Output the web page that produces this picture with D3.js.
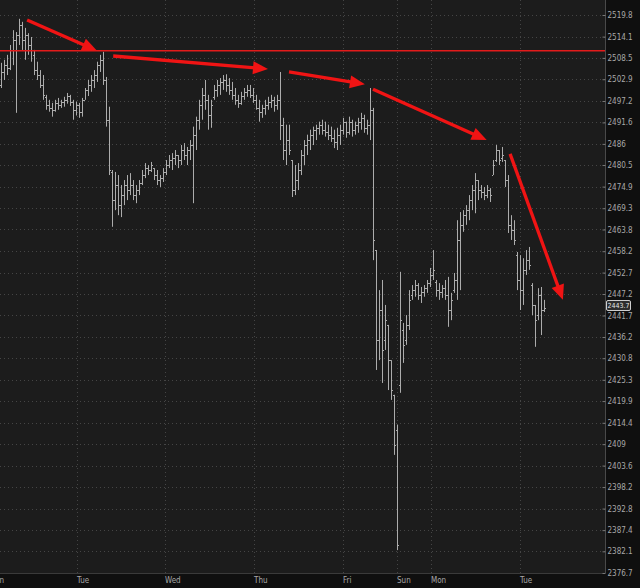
<!DOCTYPE html>
<html><head><meta charset="utf-8">
<script src="https://cdn.jsdelivr.net/npm/d3@7"></script>
<style>html,body{margin:0;padding:0;background:#111;}svg{display:block}</style>
</head><body><svg id="c" width="640" height="588"></svg>
<script>
const dayLabels = ["Mon","Tue","Wed","Thu","Fri","Sun","Mon","Tue"];
const dayTickIndex = [-4, 25.3, 54.7, 84.3, 114, 132, 143.3, 173];
const priceTicks = [2519.8,2514.1,2508.5,2502.9,2497.2,2491.6,2486,2480.5,2474.9,2469.3,2463.8,2458.2,2452.7,2447.2,2441.7,2436.2,2430.8,2425.3,2419.9,2414.4,2409,2403.6,2398.2,2392.8,2387.4,2382.1,2376.7];

const opens = [2501.4,2504.8,2506.6,2505.8,2510.6,2513.2,2514.5,2517.2,2513.2,2514.5,
2511.9,2509.3,2505.3,2504.0,2501.4,2498.3,2496.2,2495.4,2494.9,2496.7,
2496.2,2497.0,2497.5,2498.5,2497.0,2494.9,2496.2,2494.4,2497.5,2500.1,
2501.4,2502.7,2504.0,2506.6,2508.0,2502.7,2492.3,2478.7,2471.4,2475.3,
2470.1,2472.7,2475.3,2474.0,2475.3,2472.7,2474.0,2475.8,2477.9,2479.7,
2479.2,2479.7,2477.9,2476.6,2477.1,2478.7,2480.5,2481.8,2482.3,2483.1,
2481.8,2484.4,2483.1,2484.4,2485.7,2488.4,2492.3,2496.2,2498.8,2497.5,
2493.6,2498.3,2500.1,2501.4,2502.2,2502.7,2501.4,2500.1,2498.8,2497.5,
2496.7,2498.5,2499.6,2500.1,2498.8,2497.5,2495.4,2494.4,2495.4,2496.2,
2497.0,2497.5,2496.2,2497.5,2491.0,2484.4,2487.0,2481.8,2474.0,2476.6,
2479.2,2483.1,2485.7,2487.0,2488.4,2489.7,2490.2,2491.0,2489.7,2489.2,
2488.4,2487.6,2486.5,2488.4,2489.7,2491.8,2489.2,2491.8,2489.7,2491.0,
2491.8,2492.8,2490.2,2491.0,2494.9,2458.5,2435.4,2443.1,2435.4,2439.3,
2430.3,2421.5,2412.6,2424.0,2438.0,2435.4,2439.3,2447.0,2448.2,2449.5,
2447.0,2447.7,2448.7,2450.0,2452.1,2450.3,2448.2,2447.7,2448.7,2447.0,
2443.1,2448.2,2450.8,2461.1,2465.0,2467.5,2468.8,2471.4,2474.0,2476.6,
2474.0,2473.5,2472.7,2474.0,2477.9,2481.8,2484.4,2482.3,2481.8,2476.6,
2465.0,2463.7,2457.2,2450.8,2448.2,2453.4,2455.9,2449.5,2444.4,2441.8,
2447.0,2443.1];

const highs = [2507.2,2508.0,2509.3,2511.9,2515.8,2515.3,2518.8,2518.0,2516.4,2515.0,
2514.0,2510.6,2507.5,2505.3,2504.0,2498.8,2497.5,2496.7,2497.5,2498.0,
2497.5,2498.3,2499.3,2498.8,2497.5,2497.0,2496.7,2498.0,2500.6,2502.7,
2504.0,2505.3,2507.5,2509.3,2510.1,2503.5,2495.7,2479.2,2478.7,2477.9,
2475.3,2476.6,2477.9,2478.4,2476.6,2475.3,2476.6,2479.2,2481.0,2480.5,
2481.3,2479.7,2479.2,2477.9,2479.7,2481.8,2483.1,2483.6,2484.4,2483.1,
2485.7,2486.2,2485.2,2487.0,2490.5,2493.1,2497.5,2500.6,2502.7,2498.8,
2497.5,2501.4,2502.7,2503.2,2504.0,2504.2,2503.2,2502.2,2500.6,2498.8,
2499.6,2500.6,2501.4,2501.4,2500.6,2498.8,2497.5,2496.2,2497.5,2498.3,
2498.8,2498.3,2498.8,2504.8,2492.8,2491.0,2491.0,2481.8,2480.5,2481.0,
2484.4,2487.0,2488.4,2489.7,2490.5,2491.0,2491.8,2492.3,2491.8,2491.0,
2490.5,2489.7,2490.2,2491.0,2492.8,2491.8,2493.1,2492.3,2491.8,2492.8,
2494.1,2493.6,2492.3,2500.6,2495.4,2458.5,2448.2,2450.8,2444.4,2439.3,
2430.3,2421.5,2413.9,2452.9,2439.8,2441.8,2448.2,2449.5,2450.8,2450.0,
2449.0,2449.5,2450.8,2453.9,2458.5,2450.8,2450.0,2449.5,2450.8,2451.6,
2447.5,2452.6,2466.2,2468.3,2468.8,2470.1,2472.7,2475.3,2478.4,2476.6,
2475.3,2474.8,2475.3,2474.5,2481.8,2485.7,2484.4,2485.2,2481.8,2477.9,
2467.5,2466.2,2458.0,2457.2,2456.4,2458.5,2459.3,2450.0,2444.4,2448.7,
2449.0,2445.7];

const lows = [2500.6,2502.7,2504.0,2505.3,2506.6,2494.1,2511.9,2510.6,2508.0,2509.3,
2507.5,2504.0,2502.7,2500.6,2497.5,2494.9,2494.4,2493.1,2494.4,2494.9,
2495.4,2495.7,2496.5,2495.9,2492.3,2493.4,2492.8,2493.1,2497.5,2498.5,
2499.6,2500.6,2502.2,2504.8,2501.4,2490.5,2477.9,2464.5,2468.8,2467.5,
2467.0,2470.1,2471.4,2472.7,2471.4,2470.6,2472.7,2475.3,2477.1,2477.9,
2478.7,2476.6,2475.3,2474.8,2476.1,2477.9,2479.7,2479.2,2480.5,2479.7,
2480.5,2481.8,2480.5,2481.8,2470.6,2484.4,2489.7,2492.3,2494.9,2489.7,
2490.2,2497.5,2498.3,2498.8,2500.1,2499.6,2498.8,2497.5,2496.2,2495.4,
2496.2,2497.5,2498.3,2498.0,2496.7,2494.9,2491.8,2492.8,2493.6,2494.9,
2495.4,2494.4,2494.9,2487.0,2481.8,2480.5,2483.1,2472.2,2472.7,2474.0,
2477.9,2480.5,2483.1,2484.4,2485.7,2487.0,2488.4,2488.4,2487.9,2487.0,
2486.5,2484.9,2484.4,2485.7,2488.4,2487.6,2488.4,2487.9,2488.4,2488.9,
2489.7,2488.9,2488.4,2487.0,2455.9,2427.8,2430.3,2424.5,2432.9,2422.7,
2420.2,2406.3,2382.4,2422.0,2429.6,2434.2,2438.0,2445.7,2446.5,2445.7,
2444.9,2446.5,2447.5,2449.0,2450.8,2446.5,2445.7,2446.2,2445.7,2438.8,
2440.5,2447.5,2445.7,2448.2,2463.2,2465.0,2466.2,2468.8,2468.0,2471.4,
2471.9,2471.4,2471.9,2470.9,2477.9,2481.3,2480.5,2481.3,2474.8,2462.9,
2461.1,2459.8,2448.2,2443.1,2444.4,2452.1,2453.4,2441.8,2433.7,2440.5,
2436.7,2442.6];

const closes = [2504.8,2506.6,2505.8,2510.6,2513.2,2514.5,2517.2,2513.2,2514.5,2511.9,
2510.6,2505.3,2504.0,2501.4,2498.8,2496.2,2495.4,2494.9,2496.7,2496.2,
2497.0,2497.5,2498.5,2497.0,2494.9,2496.2,2494.4,2497.5,2500.1,2501.4,
2502.7,2504.0,2506.6,2508.0,2502.7,2492.3,2479.2,2471.4,2475.3,2470.1,
2472.7,2475.3,2474.0,2475.3,2472.7,2474.0,2475.8,2477.9,2479.7,2479.2,
2480.5,2477.9,2476.6,2477.1,2478.7,2480.5,2481.8,2482.3,2483.1,2481.8,
2484.4,2483.1,2484.4,2485.7,2488.4,2492.3,2496.2,2498.8,2497.5,2493.6,
2496.2,2500.1,2501.4,2502.2,2502.7,2501.4,2500.1,2498.8,2497.5,2496.7,
2498.5,2499.6,2500.1,2498.8,2497.5,2495.4,2494.4,2495.4,2496.2,2497.0,
2497.5,2496.2,2497.5,2491.0,2484.4,2487.0,2484.4,2474.0,2476.6,2479.2,
2483.1,2485.7,2487.0,2488.4,2489.7,2490.2,2491.0,2489.7,2489.2,2488.4,
2487.6,2486.5,2488.4,2489.7,2491.8,2489.2,2491.8,2489.7,2491.0,2491.8,
2492.8,2490.2,2491.0,2494.9,2461.1,2435.4,2443.1,2432.9,2440.5,2430.3,
2422.7,2408.8,2383.7,2440.5,2434.2,2439.3,2445.7,2448.2,2449.5,2447.0,
2447.7,2448.7,2450.0,2452.1,2453.4,2448.2,2447.7,2448.7,2447.0,2443.1,
2445.7,2450.8,2461.1,2465.0,2467.5,2468.8,2471.4,2474.0,2476.6,2474.0,
2473.5,2472.7,2474.0,2472.7,2480.5,2484.4,2481.8,2483.1,2476.6,2465.0,
2463.7,2461.1,2450.8,2448.2,2453.4,2455.9,2454.7,2444.4,2440.5,2447.0,
2443.1,2443.7];

const resistanceLevel = 2510.4;
const lastPrice = 2443.7;
const arrowStartIdx   = [8.7, 37.4, 96, 124, 169.7];
const arrowStartPrice = [2518.5, 2509.0, 2504.8, 2500.3, 2483.4];
const arrowEndIdx     = [32, 89, 121.3, 161.9, 187.3];
const arrowEndPrice   = [2510.4, 2505.6, 2501.6, 2487.0, 2445.7];

const W = 640, H = 588, plotR = 605, plotB = 573;
const FONT = "'Liberation Sans Narrow','DejaVu Sans Condensed','Liberation Sans',sans-serif";
const svg = d3.select("#c");

svg.append("rect").attr("width", W).attr("height", H).attr("fill", "#0f0f0f");
svg.append("rect").attr("x", 0).attr("y", 0).attr("width", plotR).attr("height", plotB).attr("fill", "#1c1c1c");

const x = d3.scaleLinear().domain([0, 181]).range([1, 544]);
const y = d3.scaleLog().domain([2376.7, 2519.8]).range([plotB, 15]);

const plot = svg.append("g");
plot.append("g").selectAll("line").data(priceTicks).join("line")
  .attr("x1", 0).attr("x2", plotR)
  .attr("y1", d => Math.round(y(d)) + 0.5).attr("y2", d => Math.round(y(d)) + 0.5)
  .attr("stroke", "#454545").attr("stroke-dasharray", "1,3");
plot.append("g").selectAll("line").data(dayTickIndex).join("line")
  .attr("x1", d => Math.round(x(d)) + 0.5).attr("x2", d => Math.round(x(d)) + 0.5)
  .attr("y1", 0).attr("y2", plotB)
  .attr("stroke", "#454545").attr("stroke-dasharray", "1,3");

const idx = d3.range(closes.length);
const barPath = idx.map(i => {
  const xi = Math.round(x(i));
  const yh = y(highs[i]), yl = y(lows[i]);
  const yo = Math.round(y(opens[i])) + 0.5, yc = Math.round(y(closes[i])) + 0.5;
  return `M${xi + 0.5},${yh}V${Math.max(yl, yh + 1)}M${xi - 1},${yo}H${xi}M${xi + 1},${yc}H${xi + 2}`;
}).join("");
plot.append("path").attr("d", barPath).attr("fill", "none")
  .attr("stroke", "#acacac").attr("stroke-width", 1);

plot.append("line").attr("x1", 0).attr("x2", plotR)
  .attr("y1", y(resistanceLevel)).attr("y2", y(resistanceLevel))
  .attr("stroke", "#e31b1b").attr("stroke-width", 1.5);

const arrows = plot.append("g");
arrowStartIdx.forEach((s, i) => {
  const x1 = x(s), y1 = y(arrowStartPrice[i]);
  const x2 = x(arrowEndIdx[i]), y2 = y(arrowEndPrice[i]);
  const dx = x2 - x1, dy = y2 - y1, len = Math.hypot(dx, dy);
  const ux = dx / len, uy = dy / len, nx = -uy, ny = ux;
  const hl = 15, hw = 6.5;
  const bx = x2 - ux * hl, by = y2 - uy * hl;
  arrows.append("line").attr("x1", x1).attr("y1", y1).attr("x2", bx + ux * 2).attr("y2", by + uy * 2)
    .attr("stroke", "#f01414").attr("stroke-width", 3.3);
  arrows.append("path")
    .attr("d", `M${x2},${y2}L${bx + nx * hw},${by + ny * hw}L${bx - nx * hw},${by - ny * hw}Z`)
    .attr("fill", "#f01414");
});

svg.append("rect").attr("x", 0).attr("y", plotB).attr("width", W).attr("height", H - plotB).attr("fill", "#0f0f0f");
svg.append("rect").attr("x", plotR).attr("y", 0).attr("width", W - plotR).attr("height", H).attr("fill", "#0f0f0f");
svg.append("line").attr("x1", 0).attr("x2", plotR).attr("y1", plotB + 0.5).attr("y2", plotB + 0.5).attr("stroke", "#3a3a3a");

const yAxis = d3.axisRight(y).tickValues(priceTicks).tickSize(0).tickPadding(2).tickFormat(d => String(d));
const ya = svg.append("g").attr("transform", `translate(${plotR + 0.5},0)`).call(yAxis);
ya.select(".domain").attr("stroke", "#4a4a4a").attr("d", `M0,0V${plotB}`);
ya.selectAll(".tick line").attr("x1", -3).attr("x2", 0).attr("stroke", "#777");
ya.selectAll(".tick text").attr("fill", "#a8a8a8").style("font-family", FONT).style("font-size", "8px");

svg.append("g").selectAll("text").data(dayLabels).join("text")
  .attr("x", (d, i) => Math.round(x(dayTickIndex[i])))
  .attr("y", 583)
  .attr("fill", "#a8a8a8").style("font-family", FONT).style("font-size", "8px")
  .text(d => d);

const ly = y(lastPrice);
svg.append("rect").attr("x", plotR + 1.5).attr("y", Math.round(ly) - 7.5).attr("width", 24).attr("height", 10)
  .attr("fill", "#2e2e2e").attr("stroke", "#cfcfcf").attr("stroke-width", 1).attr("rx", 1.5);
svg.append("text").attr("x", plotR + 13.5).attr("y", Math.round(ly) - 0.2).attr("text-anchor", "middle")
  .attr("fill", "#e6e6e6").style("font-family", FONT).style("font-size", "7px").text(String(lastPrice));
</script></body></html>
